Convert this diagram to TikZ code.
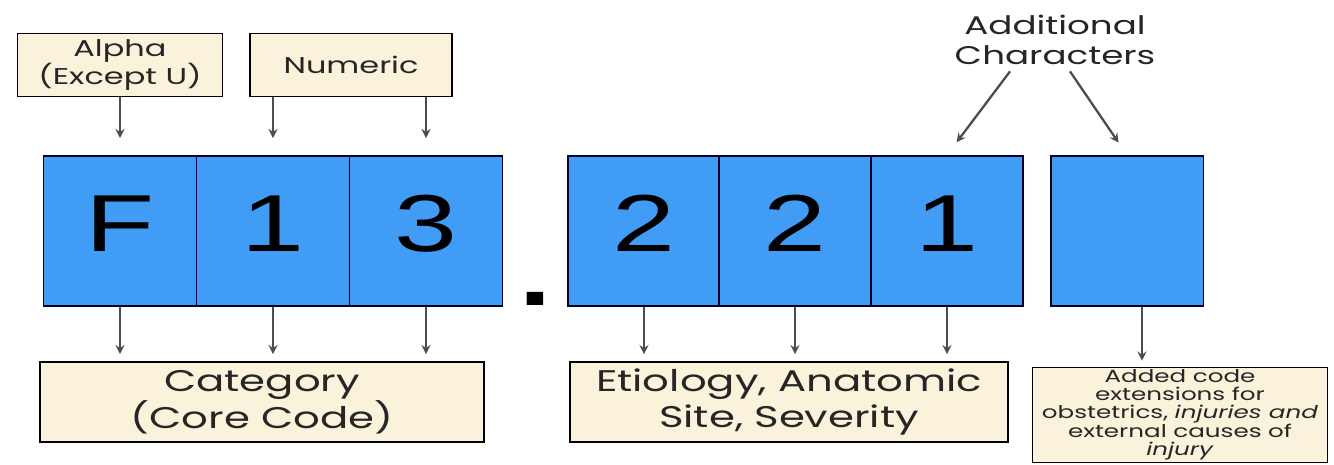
\documentclass[tikz,border=0pt]{standalone}
\usepackage{fontspec}
\setmainfont[FakeStretch=1.4]{Poppins}
\newfontfamily\digitfont[FakeStretch=1.4]{Liberation Sans}
\usetikzlibrary{shapes}
\definecolor{cellblue}{RGB}{64,156,245}
\definecolor{boxtan}{RGB}{250,242,218}
\tikzstyle{cell}=[rectangle,draw=black!85!blue,fill=cellblue,line width=1.1pt,minimum width=3.06cm,minimum height=3cm,inner sep=0pt,text height=33pt,text depth=10pt,font=\digitfont\fontsize{46}{46}\selectfont]
\tikzstyle{lbl}=[rectangle,draw=black,fill=boxtan,line width=1pt,align=center,inner sep=0pt,text=black!85]
\tikzstyle{arr}=[->,>=stealth,line width=1.3pt,draw=black!70]

\begin{document}
\begin{tikzpicture}[x=0.02cm,y=-0.02cm]
\useasboundingbox (0,0) rectangle (1334,465);
% code cells
\node[cell] (F) at (120,231) {F};
\node[cell] (c1) at (273,231) {1};
\node[cell] (c3) at (426,231) {3};
\node[font=\digitfont\fontsize{70}{70}\selectfont] (dot) at (535,299) {.};
\node[cell,minimum width=3.03cm] (c4) at (644,231) {2};
\node[cell,minimum width=3.03cm] (c5) at (795,231) {2};
\node[cell,minimum width=3.03cm] (c6) at (947,231) {1};
\node[cell] (ext) at (1127,231) {};
% top labels
\node[lbl,minimum width=4.1cm,minimum height=1.26cm,font=\fontsize{13}{16}\selectfont] (alpha) at (120,65) {Alpha\\(Except U)};
\node[lbl,minimum width=4.04cm,minimum height=1.26cm,font=\fontsize{13}{16}\selectfont] (num) at (351,65) {Numeric};
\node[align=center,text=black!85,font=\fontsize{14.5}{17.5}\selectfont] (addl) at (1055,40) {Additional\\Characters};
% bottom labels
\node[lbl,minimum width=8.88cm,minimum height=1.6cm,font=\fontsize{17}{21}\selectfont] (cat) at (262,402) {Category\\(Core Code)};
\node[lbl,minimum width=8.76cm,minimum height=1.6cm,font=\fontsize{17}{21}\selectfont] (eti) at (789,402) {Etiology, Anatomic\\Site, Severity};
\node[lbl,minimum width=5.9cm,minimum height=1.9cm,font=\fontsize{10}{10}\selectfont] (added) at (1180,415) {Added code\\extensions for\\obstetrics, \textit{injuries and}\\external causes of\\\textit{injury}};
% arrows from top
\draw[arr,shorten >=0.34cm] (F |- alpha.south) -- (F.north);
\draw[arr,shorten >=0.34cm] (c1 |- num.south) -- (c1.north);
\draw[arr,shorten >=0.34cm] (c3 |- num.south) -- (c3.north);
\draw[arr,shorten >=0.32cm] ([xshift=-0.9cm]addl.south) -- (c6.north);
\draw[arr,shorten >=0.3cm] ([xshift=0.3cm]addl.south) -- (ext.north);
% arrows to bottom
\draw[arr,shorten >=0.14cm] (F.south) -- (F |- cat.north);
\draw[arr,shorten >=0.14cm] (c1.south) -- (c1 |- cat.north);
\draw[arr,shorten >=0.14cm] (c3.south) -- (c3 |- cat.north);
\draw[arr,shorten >=0.14cm] (c4.south) -- (c4 |- eti.north);
\draw[arr,shorten >=0.14cm] (c5.south) -- (c5 |- eti.north);
\draw[arr,shorten >=0.14cm] (c6.south) -- (c6 |- eti.north);
\draw[arr,shorten >=0.12cm] ([xshift=0.3cm]ext.south) -- ([xshift=0.3cm]ext.south |- added.north);
\end{tikzpicture}
\end{document}
